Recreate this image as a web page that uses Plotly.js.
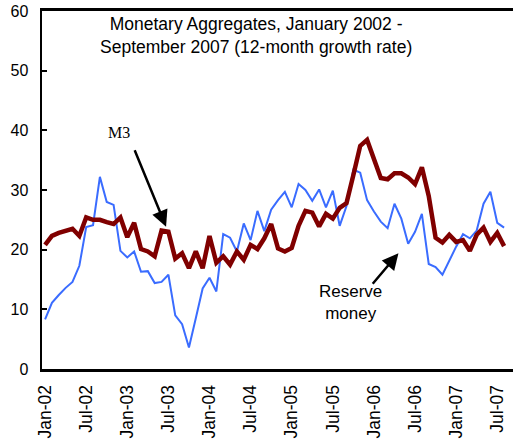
<!DOCTYPE html>
<html>
<head>
<meta charset="utf-8">
<script src="https://cdn.plot.ly/plotly-3.0.1.min.js"></script>
<style>
  html, body { margin: 0; padding: 0; background: #ffffff; }
  #chart { width: 513px; height: 447px; }
</style>
</head>
<body>
<div id="chart"></div>
<script>
// Monthly categories, Jan-02 .. Aug-07
const months = [
  "Jan-02","Feb-02","Mar-02","Apr-02","May-02","Jun-02","Jul-02","Aug-02","Sep-02","Oct-02","Nov-02","Dec-02",
  "Jan-03","Feb-03","Mar-03","Apr-03","May-03","Jun-03","Jul-03","Aug-03","Sep-03","Oct-03","Nov-03","Dec-03",
  "Jan-04","Feb-04","Mar-04","Apr-04","May-04","Jun-04","Jul-04","Aug-04","Sep-04","Oct-04","Nov-04","Dec-04",
  "Jan-05","Feb-05","Mar-05","Apr-05","May-05","Jun-05","Jul-05","Aug-05","Sep-05","Oct-05","Nov-05","Dec-05",
  "Jan-06","Feb-06","Mar-06","Apr-06","May-06","Jun-06","Jul-06","Aug-06","Sep-06","Oct-06","Nov-06","Dec-06",
  "Jan-07","Feb-07","Mar-07","Apr-07","May-07","Jun-07","Jul-07","Aug-07"
];

// M3, 12-month growth rate (%)
const m3 = [
  20.8, 22.3, 22.8, 23.2, 23.5, 22.3, 25.4, 25.0, 25.0, 24.6, 24.3, 25.4,
  22.1, 24.5, 20.1, 19.7, 18.9, 23.2, 23.0, 18.5, 19.4, 16.9, 19.7, 16.9,
  22.3, 17.8, 18.9, 17.5, 19.7, 18.3, 20.8, 20.1, 21.9, 24.3, 20.2, 19.7,
  20.3, 24.0, 26.5, 26.2, 23.9, 26.0, 25.2, 27.0, 27.8, 32.5, 37.4, 38.4,
  35.1, 32.0, 31.8, 32.8, 32.8, 32.1, 31.0, 33.8, 29.0, 22.0, 21.2, 22.5,
  21.3, 21.6, 19.8, 22.5, 23.7, 21.3, 22.8, 20.6
];

// Reserve money, 12-month growth rate (%)
const reserveMoney = [
  8.3, 11.1, 12.4, 13.6, 14.6, 17.3, 23.8, 24.1, 32.2, 28.0, 27.5, 19.8,
  18.7, 19.7, 16.3, 16.4, 14.4, 14.6, 15.8, 9.0, 7.5, 3.6, 8.5, 13.5,
  15.3, 13.0, 22.6, 22.0, 19.7, 24.4, 21.6, 26.5, 23.1, 26.7, 28.3, 29.7,
  27.1, 31.0, 30.0, 28.2, 30.1, 27.1, 29.9, 24.0, 27.3, 33.4, 32.9, 28.3,
  26.4, 24.7, 23.6, 27.7, 25.2, 21.0, 23.0, 26.0, 17.6, 17.1, 15.8, 18.3,
  20.5, 22.6, 21.9, 23.2, 27.7, 29.7, 24.5, 23.7
];

// Axis tick labels
const xTickLabels = ["Jan-02","Jul-02","Jan-03","Jul-03","Jan-04","Jul-04","Jan-05","Jul-05","Jan-06","Jul-06","Jan-07","Jul-07"];
const yTickValues = [0, 10, 20, 30, 40, 50, 60];

const titleText = "Monetary Aggregates, January 2002 -<br>September 2007 (12-month growth rate)";

const FONT = "Arial, 'Liberation Sans', sans-serif";
const SERIF = "'Times New Roman', 'Liberation Serif', serif";

const traces = [
  {
    x: months, y: reserveMoney, type: "scatter", mode: "lines", name: "Reserve money",
    line: { color: "#3a6cff", width: 2 }, hoverinfo: "skip"
  },
  {
    x: months, y: m3, type: "scatter", mode: "lines", name: "M3",
    line: { color: "#800000", width: 4.5 }, hoverinfo: "skip"
  }
];

const layout = {
  width: 513, height: 447,
  margin: { l: 42, r: 0, t: 11, b: 78, pad: 0 },
  paper_bgcolor: "#ffffff", plot_bgcolor: "#ffffff",
  showlegend: false,
  font: { family: FONT, size: 16, color: "#000000" },
  xaxis: {
    type: "category", categoryorder: "array", categoryarray: months,
    range: [-0.45, 68.3],
    tickmode: "array", tickvals: xTickLabels, ticktext: xTickLabels,
    tickangle: -90, ticks: "", showgrid: false, zeroline: false,
    showline: true, linecolor: "#000000", linewidth: 3, mirror: true,
    tickfont: { family: FONT, size: 17.5, color: "#000000" },
    ticklabelstandoff: 6
  },
  yaxis: {
    range: [0, 60], tickmode: "array", tickvals: yTickValues,
    ticks: "inside", ticklen: 5, tickwidth: 2, tickcolor: "#000000",
    showgrid: false, zeroline: false,
    showline: true, linecolor: "#000000", linewidth: 2.5,
    tickfont: { family: FONT, size: 16, color: "#000000" },
    ticklabelstandoff: 8
  },
  annotations: [
    { text: titleText, xref: "paper", yref: "paper", x: 0.454, y: 0.998,
      xanchor: "center", yanchor: "top", showarrow: false, align: "center",
      font: { family: FONT, size: 17.5, color: "#000000" } },
    { text: "M3", xref: "x", yref: "y", x: 10.73, y: 39.7, showarrow: false,
      font: { family: SERIF, size: 16, color: "#000000" } },
    { text: "", xref: "x", yref: "y", x: 17.66, y: 23.85, showarrow: true,
      ax: -32, ay: -78, arrowhead: 2, arrowsize: 1.3, arrowwidth: 2.5, arrowcolor: "#000000", standoff: 0 },
    { text: "Reserve<br>money", xref: "x", yref: "y", x: 44.6, y: 11.2, showarrow: false,
      font: { family: FONT, size: 17, color: "#000000" } },
    { text: "", xref: "x", yref: "y", x: 51.58, y: 19.39, showarrow: true,
      ax: -27, ay: 32, arrowhead: 2, arrowsize: 1.3, arrowwidth: 2.5, arrowcolor: "#000000", standoff: 0 }
  ]
};

Plotly.newPlot("chart", traces, layout, { displayModeBar: false, staticPlot: true });
</script>
</body>
</html>
